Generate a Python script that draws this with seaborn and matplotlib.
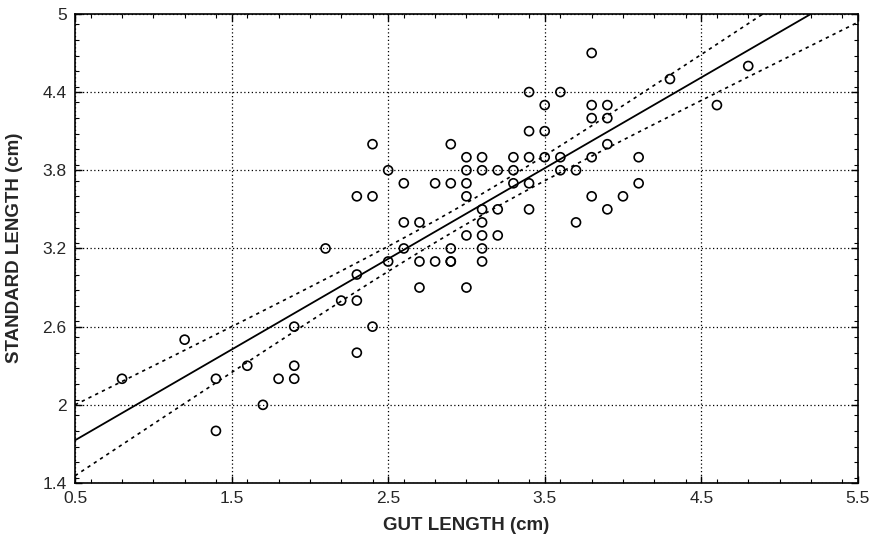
import matplotlib
matplotlib.use('Agg')
import matplotlib.pyplot as plt
import seaborn as sns
import pandas as pd
import numpy as np
from matplotlib.ticker import MultipleLocator

# gut length (cm) vs standard length (cm)
gut_length = [0.8, 1.2, 1.4, 1.4, 1.6, 1.7, 1.8, 1.9, 1.9, 1.9,
              2.1, 2.2, 2.3, 2.3, 2.3, 2.3, 2.4, 2.4, 2.4, 2.5,
              2.5, 2.6, 2.6, 2.6, 2.7, 2.7, 2.7, 2.8, 2.8, 2.9,
              2.9, 2.9, 2.9, 2.9, 3.0, 3.0, 3.0, 3.0, 3.0, 3.0,
              3.1, 3.1, 3.1, 3.1, 3.1, 3.1, 3.1, 3.2, 3.2, 3.2,
              3.3, 3.3, 3.3, 3.4, 3.4, 3.4, 3.4, 3.4, 3.5, 3.5,
              3.5, 3.6, 3.6, 3.6, 3.7, 3.7, 3.8, 3.8, 3.8, 3.8,
              3.8, 3.9, 3.9, 3.9, 3.9, 4.0, 4.1, 4.1, 4.3, 4.6,
              4.8]
std_length = [2.2, 2.5, 2.2, 1.8, 2.3, 2.0, 2.2, 2.2, 2.3, 2.6,
              3.2, 2.8, 2.8, 3.0, 2.4, 3.6, 2.6, 3.6, 4.0, 3.8,
              3.1, 3.2, 3.4, 3.7, 3.4, 3.1, 2.9, 3.7, 3.1, 3.7,
              4.0, 3.2, 3.1, 3.1, 3.9, 3.8, 3.7, 3.6, 3.3, 2.9,
              3.9, 3.8, 3.5, 3.4, 3.3, 3.2, 3.1, 3.8, 3.5, 3.3,
              3.9, 3.8, 3.7, 4.4, 4.1, 3.9, 3.7, 3.5, 4.3, 4.1,
              3.9, 4.4, 3.9, 3.8, 3.8, 3.4, 4.7, 4.3, 4.2, 3.9,
              3.6, 4.3, 4.2, 4.0, 3.5, 3.6, 3.9, 3.7, 4.5, 4.3,
              4.6]

df = pd.DataFrame({'gut': gut_length, 'std': std_length})

x_ticks = [0.5, 1.5, 2.5, 3.5, 4.5, 5.5]
y_ticks = [1.4, 2.0, 2.6, 3.2, 3.8, 4.4, 5.0]
x_tick_labels = ['0.5', '1.5', '2.5', '3.5', '4.5', '5.5']
y_tick_labels = ['1.4', '2', '2.6', '3.2', '3.8', '4.4', '5']

sns.set_style('ticks')
plt.rcParams['font.family'] = ['Liberation Sans Narrow', 'Liberation Sans', 'DejaVu Sans']

fig = plt.figure(figsize=(8.86, 5.38), dpi=100)
ax = fig.add_axes([0.0847, 0.1022, 0.8835, 0.872])

# linear fit and 95% confidence band for the mean
n = len(df)
slope, intercept = np.polyfit(df['gut'], df['std'], 1)
resid = df['std'] - (intercept + slope * df['gut'])
s = np.sqrt((resid ** 2).sum() / (n - 2))
xbar = df['gut'].mean()
sxx = ((df['gut'] - xbar) ** 2).sum()
t_val = 1.99
xx = np.linspace(0.5, 5.5, 200)
yy = intercept + slope * xx
half = t_val * s * np.sqrt(1.0 / n + (xx - xbar) ** 2 / sxx)

ax.plot(xx, yy, color='black', lw=1.3)
ax.plot(xx, yy + half, color='black', lw=1.2, ls=(0, (2, 2.5)))
ax.plot(xx, yy - half, color='black', lw=1.2, ls=(0, (2, 2.5)))

sns.scatterplot(data=df, x='gut', y='std', ax=ax, marker='o', s=42,
                facecolor='none', edgecolor='black', linewidth=1.2, zorder=3)

ax.set_xlim(0.5, 5.5)
ax.set_ylim(1.4, 5.0)
ax.set_xticks(x_ticks)
ax.set_xticklabels(x_tick_labels)
ax.set_yticks(y_ticks)
ax.set_yticklabels(y_tick_labels)
ax.xaxis.set_minor_locator(MultipleLocator(0.2))
ax.yaxis.set_minor_locator(MultipleLocator(0.12))
ax.tick_params(which='both', direction='in', top=True, right=True, color='black')
ax.tick_params(which='major', length=5, width=1, labelsize=12.5, pad=6)
ax.tick_params(which='minor', length=3, width=0.8)
ax.grid(True, which='major', color='black', ls=(0, (1, 2)), lw=0.9)
for sp in ax.spines.values():
    sp.set_color('black')
    sp.set_linewidth(1.2)

ax.set_xlabel('GUT LENGTH (cm)', fontsize=13.5, fontweight='bold', labelpad=8)
ax.set_ylabel('')
fig.text(0.016, 0.54, 'STANDARD LENGTH (cm)', rotation=90, fontsize=13.5,
         fontweight='bold', ha='center', va='center')

plt.savefig('out.png', dpi=100)
